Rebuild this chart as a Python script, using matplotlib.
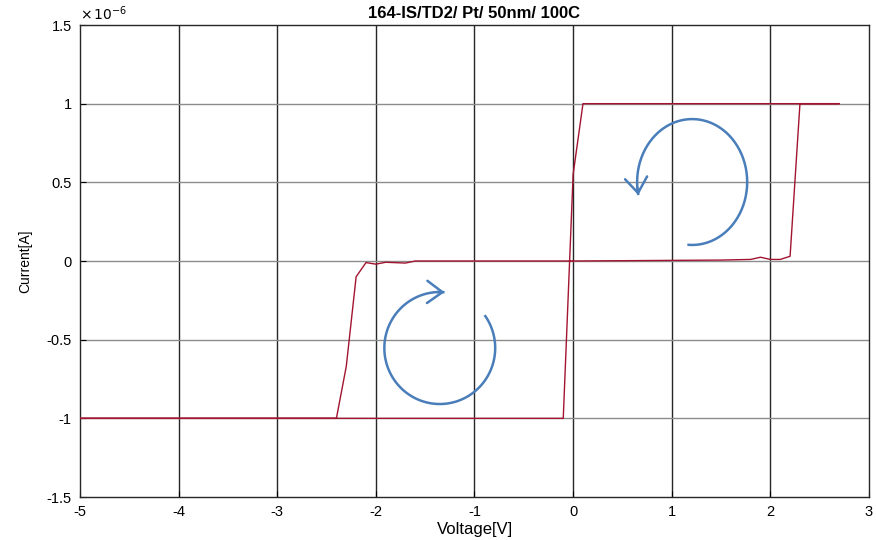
import numpy as np
import matplotlib.pyplot as plt
from matplotlib.ticker import FuncFormatter

plt.rcParams['font.family'] = ['Liberation Sans', 'DejaVu Sans']
plt.rcParams['axes.unicode_minus'] = False

# sweep 0 -> +2.7 -> 0 -> -5 -> 0 (vertices of the measured curve)
voltage = [0.0, 0.5, 1.0, 1.5, 1.8, 1.9, 2.0, 2.1, 2.2, 2.3, 2.7,
           0.1, 0.0, -0.1, -5.0,
           -2.4, -2.3, -2.2, -2.1, -2.0, -1.9, -1.7, -1.6, -1.0, -0.5, 0.0]
current_uA = [0.0, 0.002, 0.004, 0.006, 0.01, 0.024, 0.01, 0.01, 0.03, 1.0, 1.0,
              1.0, 0.55, -1.0, -1.0,
              -1.0, -0.67, -0.1, -0.01, -0.02, -0.008, -0.013, 0.0, 0.0, 0.0, 0.0]

red = '#A2142F'
blue = '#4A7EBB'

fig = plt.figure(figsize=(8.76, 5.4), dpi=100)
ax = fig.add_axes([0.0913, 0.0796, 0.9007, 0.8741])

ax.set_xlim(-5, 3)
ax.set_ylim(-1.5e-6, 1.5e-6)
ax.set_xticks(np.arange(-5, 4, 1))
ax.set_yticks(np.arange(-1.5, 2.0, 0.5) * 1e-6)
ax.xaxis.set_major_formatter(FuncFormatter(lambda v, p: f'{v:g}'))
ax.yaxis.set_major_formatter(FuncFormatter(lambda v, p: f'{v * 1e6:g}'))

# grid: vertical dark, horizontal gray
for xv in range(-4, 3):
    ax.axvline(xv, color='#262626', lw=1.0, zorder=1)
for yv in [-1.0, -0.5, 0.0, 0.5, 1.0]:
    ax.axhline(yv * 1e-6, color='#8c8c8c', lw=1.0, zorder=1)

ax.plot(voltage, np.array(current_uA) * 1e-6, color=red, lw=1.0, zorder=3)


def swirl(cx, cy, rx, ry, a0, a1):
    t = np.radians(np.linspace(a0, a1, 200))
    xs = cx + rx * np.cos(t)
    ys = (cy + ry * np.sin(t)) * 1e-6
    ax.plot(xs, ys, color=blue, lw=1.8, zorder=4, solid_capstyle='butt')
    ax.annotate('', xy=(xs[-1], ys[-1]), xytext=(xs[-6], ys[-6]),
                arrowprops=dict(arrowstyle='->,head_length=0.55,head_width=0.4',
                                color=blue, lw=1.8,
                                mutation_scale=20, shrinkA=0, shrinkB=0),
                zorder=4)


swirl(1.207, 0.502, 0.558, 0.40, -95, 192)
swirl(-1.352, -0.553, 0.562, 0.356, 36, -275)

ax.tick_params(direction='in', length=4, width=0.8, labelsize=10.5, pad=6,
               top=False, right=False)
for s in ax.spines.values():
    s.set_color('#262626')
    s.set_linewidth(1.0)

ax.text(0.0, 1.004, r'$\times\,10^{-6}$', transform=ax.transAxes,
        fontsize=10, ha='left', va='bottom')
ax.set_title('164-IS/TD2/ Pt/ 50nm/ 100C', fontsize=12, fontweight='bold', pad=5)
ax.set_xlabel('Voltage[V]', fontsize=12, labelpad=2)
ax.set_ylabel('Current[A]', fontsize=10, labelpad=10)

fig.savefig('out.png', dpi=100)
